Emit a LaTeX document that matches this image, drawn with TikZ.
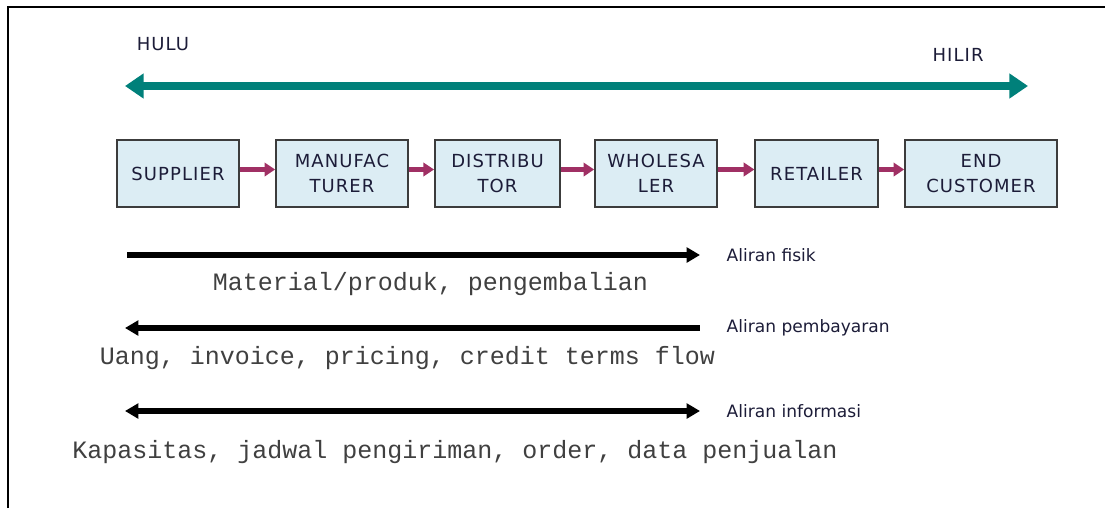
\documentclass[tikz,border=0pt]{standalone}
\usepackage{fontspec}
\setmainfont{DejaVu Sans}
\newfontfamily\monofont{Liberation Mono}
\newfontfamily\boxfont[LetterSpace=6]{DejaVu Sans}
\usepackage{tikz}
\usetikzlibrary{positioning, arrows.meta}
\definecolor{boxfill}{RGB}{220,237,244}
\definecolor{boxline}{RGB}{60,60,60}
\definecolor{chainarrow}{RGB}{160,48,100}
\definecolor{tealarrow}{RGB}{0,128,122}
\definecolor{inktext}{RGB}{28,28,56}
\tikzset{
  member/.style={draw=boxline, line width=1.2pt, fill=boxfill, minimum height=50pt,
    align=center, text=inktext, font=\boxfont\fontsize{13.5}{18.5}\selectfont, inner sep=1pt},
  link/.style={draw=chainarrow, line width=3.6pt, -{Triangle[length=8pt,width=10pt]}},
  flow/.style={draw=black, line width=5pt},
  flowright/.style={flow, -{Triangle[length=10pt,width=11pt]}},
  flowleft/.style={flow, {Triangle[length=10pt,width=11pt]}-},
  flowboth/.style={flow, {Triangle[length=10pt,width=11pt]}-{Triangle[length=10pt,width=11pt]}},
  flowname/.style={anchor=west, text=inktext, font=\fontsize{12.8}{15}\selectfont},
  flowtext/.style={text=black!75, font=\monofont\fontsize{18.75}{20}\selectfont},
  side/.style={text=inktext, font=\boxfont\fontsize{13.5}{16}\selectfont}
}
\begin{document}
\begin{tikzpicture}[x=0.75pt, y=-0.75pt]
\useasboundingbox (0,0) rectangle (1105,508);
\draw[line width=1.6pt] (8,508) -- (8,7) -- (1105,7);
\node[side] (hulu) at (163,44) {HULU};
\node[side] (hilir) at (958,55) {HILIR};
\coordinate (up) at (125,86);
\coordinate (down) at (1028,86);
\draw[tealarrow, line width=6pt, {Triangle[length=14pt,width=18pt]}-{Triangle[length=14pt,width=18pt]}] (up) -- (down);
\node[member, minimum width=91.5pt] (supplier) at (178,173.5) {SUPPLIER};
\node[member, minimum width=99pt] (manuf) at (342,173.5) {MANUFAC\\TURER};
\node[member, minimum width=94pt] (distr) at (497.5,173.5) {DISTRIBU\\TOR};
\node[member, minimum width=91.5pt] (whole) at (656,173.5) {WHOLESA\\LER};
\node[member, minimum width=92pt] (retail) at (816.5,173.5) {RETAILER};
\node[member, minimum width=114pt] (endcust) at (981,173.5) {END\\CUSTOMER};
\foreach \from/\to in {supplier/manuf, manuf/distr, distr/whole, whole/retail, retail/endcust}
  \draw[link] ([yshift=3pt]\from.east) -- ([yshift=3pt]\to.west);
\coordinate (fa) at (127,255);
\coordinate (fb) at (700,255);
\coordinate (pa) at (125,328);
\coordinate (pb) at (700,328);
\coordinate (ia) at (125,411);
\coordinate (ib) at (700,411);
\draw[flowright] (fa) -- (fb);
\draw[flowleft] (pa) -- (pb);
\draw[flowboth] (ia) -- (ib);
\node[flowname] (fisik) at (722,255) {Aliran fisik};
\node[flowname] (bayar) at (722,328) {Aliran pembayaran};
\node[flowname] (info) at (722,411) {Aliran informasi};
\node[flowtext] (fisiktext) at (430.5,284) {Material/produk, pengembalian};
\node[flowtext] (bayartext) at (407.5,358) {Uang, invoice, pricing, credit terms flow};
\node[flowtext] (infotext) at (455,452) {Kapasitas, jadwal pengiriman, order, data penjualan};
\end{tikzpicture}
\end{document}
